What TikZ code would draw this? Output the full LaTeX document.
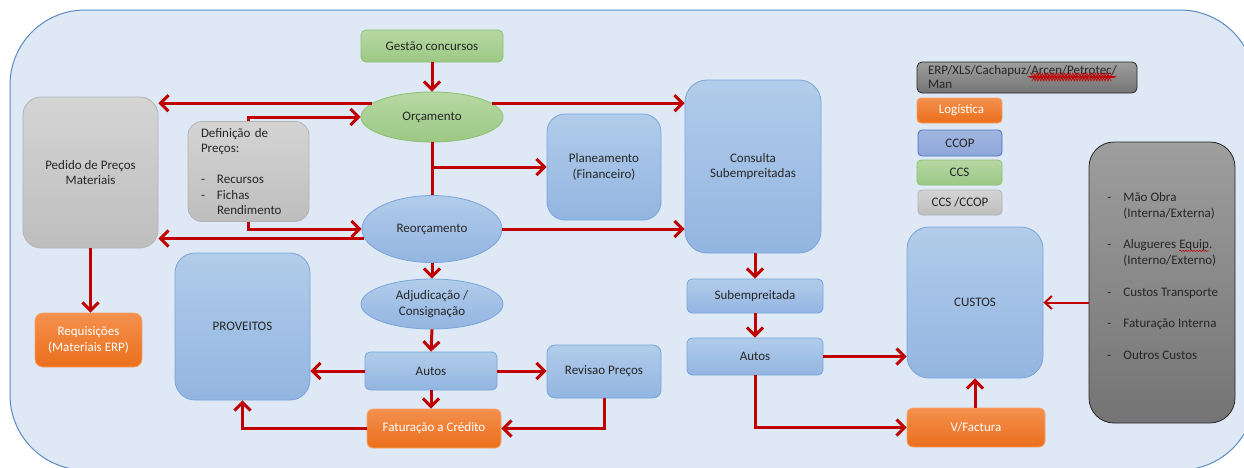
\documentclass[tikz,border=0pt]{standalone}
\usepackage{fontspec}
\setmainfont{Carlito}
\usetikzlibrary{arrows.meta,shapes.geometric,calc,decorations.pathmorphing}

\definecolor{txt}{HTML}{262626}
\definecolor{flowred}{HTML}{C00000}
\definecolor{bgfill}{HTML}{DEE9F5}
\definecolor{bgline}{HTML}{5A8AC6}
\definecolor{bluetop}{HTML}{B2CCEA}
\definecolor{bluebot}{HTML}{92B5E1}
\definecolor{blueline}{HTML}{79A5DA}
\definecolor{greentop}{HTML}{B7D8A4}
\definecolor{greenbot}{HTML}{9CC885}
\definecolor{greenline}{HTML}{8CC06E}
\definecolor{greytop}{HTML}{D4D4D4}
\definecolor{greybot}{HTML}{BEBEBE}
\definecolor{greyline}{HTML}{B3B3B3}
\definecolor{orangetop}{HTML}{F4904E}
\definecolor{orangebot}{HTML}{EA6F1C}
\definecolor{orangeline}{HTML}{F5A36B}
\definecolor{ccoptop}{HTML}{A3B5E0}
\definecolor{ccopbot}{HTML}{8FA6D9}
\definecolor{ccopline}{HTML}{4A72C2}
\definecolor{darktop}{HTML}{9E9E9E}
\definecolor{darkbot}{HTML}{747474}
\definecolor{darkline}{HTML}{262626}

% red spell-check squiggle under a word
\newcommand{\spellmark}[1]{\tikz[baseline=(spw.base), x=1pt, y=1pt]{%
  \node[inner sep=0pt, outer sep=0pt, minimum width=0pt, minimum height=0pt,
    text width=, align=none, rounded corners=0pt] (spw) {#1};
  \draw[flowred, line width=0.5pt, decorate,
    decoration={snake, amplitude=0.7pt, segment length=2.8pt}]
    ([yshift=-2pt]spw.base west) -- ([yshift=-2pt]spw.base east);}}
\newcommand{\dashitem}[1]{\makebox[16pt][l]{-}#1}
\newcommand{\dashcont}[1]{\hspace*{16pt}#1}

\tikzset{
  base/.style={font=\fontsize{13}{15.4}\selectfont, text=txt, inner sep=0pt,
    align=center, line width=0.8pt},
  bluebox/.style={base, rectangle, draw=blueline, top color=bluetop, bottom color=bluebot},
  blueoval/.style={base, ellipse, draw=blueline, top color=bluetop, bottom color=bluebot},
  greenbox/.style={base, rectangle, draw=greenline, top color=greentop, bottom color=greenbot},
  greenoval/.style={base, ellipse, draw=greenline, top color=greentop, bottom color=greenbot},
  greybox/.style={base, rectangle, draw=greyline, top color=greytop, bottom color=greybot},
  orangebox/.style={base, rectangle, draw=orangeline, top color=orangetop,
    bottom color=orangebot, text=white},
  ccopbox/.style={base, rectangle, draw=ccopline, top color=ccoptop, bottom color=ccopbot},
  darkbox/.style={base, rectangle, draw=darkline, top color=darktop, bottom color=darkbot},
  flow/.style={draw=flowred, line width=3pt,
    -{Straight Barb[length=8pt,width=16pt]}},
  thinflow/.style={draw=flowred, line width=2pt,
    -{Straight Barb[length=7pt,width=13pt]}},
  link/.style={draw=flowred, line width=3pt},
  panel/.style={fill=bgfill, draw=bgline, line width=1pt, rounded corners=75pt},
}

\begin{document}
\begin{tikzpicture}[x=1pt, y=-1pt]
  \useasboundingbox (0,0) rectangle (1244,467);

  % light blue rounded panel, running off the right and bottom edges
  \begin{scope}
    \clip (0,0) rectangle (1244,467);
    \draw[panel] (10,10) rectangle (1255,470);
  \end{scope}

  % main flow
  \node[greenbox, rounded corners=5pt, minimum width=142pt, minimum height=32pt]
    (gest) at (432,46) {Gestão concursos};
  \node[greenoval, minimum width=142pt, minimum height=50pt]
    (orc) at (432,117) {Orçamento};
  \node[greybox, rounded corners=18pt, minimum width=135pt, minimum height=151pt]
    (ped) at (90.5,172.5) {Pedido de Preços\\Materiais};
  \node[greybox, rounded corners=14pt, minimum width=121pt, minimum height=100pt,
    text width=95pt, align=left]
    (def) at (248.5,171.5) {Definição de\\Preços:\\[15.4pt]\dashitem{Recursos}\\\dashitem{Fichas}\\\dashcont{Rendimento}};
  \node[bluebox, rounded corners=18pt, minimum width=114pt, minimum height=106pt]
    (plan) at (604,167) {Planeamento\\(Financeiro)};
  \node[bluebox, rounded corners=22pt, minimum width=136pt, minimum height=173pt]
    (cons) at (753,166.5) {Consulta\\Subempreitadas};
  \node[blueoval, minimum width=140pt, minimum height=67pt]
    (reo) at (432,229) {Reorçamento};
  \node[bluebox, rounded corners=20pt, minimum width=135pt, minimum height=147pt]
    (prov) at (242.5,326.5) {PROVEITOS};
  \node[blueoval, minimum width=142pt, minimum height=50pt]
    (adj) at (432,304) {Adjudicação /\\Consignação};
  \node[bluebox, rounded corners=5pt, minimum width=132pt, minimum height=38pt]
    (autl) at (431,371) {Autos};
  \node[bluebox, rounded corners=8pt, minimum width=114pt, minimum height=53pt]
    (rev) at (604,371.5) {Revisao Preços};
  \node[orangebox, rounded corners=6pt, minimum width=134pt, minimum height=39pt]
    (fat) at (434,428.5) {Faturação a Crédito};
  \node[orangebox, rounded corners=8pt, minimum width=107pt, minimum height=54pt]
    (req) at (88.5,340) {Requisições\\(Materiais ERP)};
  \node[bluebox, rounded corners=5pt, minimum width=136pt, minimum height=34pt]
    (sub) at (755,296) {Subempreitada};
  \node[bluebox, rounded corners=5pt, minimum width=136pt, minimum height=37pt]
    (autr) at (755,356.5) {Autos};
  \node[bluebox, rounded corners=22pt, minimum width=136pt, minimum height=151pt]
    (cus) at (975,302.5) {CUSTOS};
  \node[orangebox, rounded corners=6pt, minimum width=138pt, minimum height=39pt]
    (vf) at (976,427.5) {V/Factura};

  % colour key
  \node[darkbox, rounded corners=5pt, minimum width=220pt, minimum height=31pt,
    text width=198pt, align=left, font=\fontsize{13}{14}\selectfont]
    (keyerp) at (1027,77.5) {ERP/XLS/Cachapuz/\spellmark{Arcen/Petrotec}/\\Man};
  \node[orangebox, rounded corners=4pt, minimum width=85pt, minimum height=25pt]
    (keylog) at (959.5,110.5) {\hspace*{4pt}Logística};
  \node[ccopbox, rounded corners=4pt, minimum width=84pt, minimum height=26pt]
    (keyccop) at (960,143) {CCOP};
  \node[greenbox, rounded corners=4pt, minimum width=85pt, minimum height=25pt]
    (keyccs) at (959.5,172.5) {CCS};
  \node[greybox, rounded corners=4pt, minimum width=84pt, minimum height=25pt]
    (keyboth) at (960,202.5) {CCS /CCOP};

  % cost sources
  \node[darkbox, rounded corners=25pt, minimum width=146pt, minimum height=281pt]
    (src) at (1162,282.5) {};
  \node[base, anchor=west, align=left, font=\fontsize{13}{15.8}\selectfont]
    (srclist) at (1107,276) {\dashitem{Mão Obra}\\\dashcont{(Interna/Externa)}\\[15.8pt]%
      \dashitem{Alugueres \spellmark{Equip}.}\\\dashcont{(Interno/Externo)}\\[15.8pt]%
      \dashitem{Custos Transporte}\\[15.8pt]%
      \dashitem{Faturação Interna}\\[15.8pt]%
      \dashitem{Outros Custos}};

  % connectors
  \draw[flow] (gest.south) -- (orc.north);
  \draw[flow] (orc.167) -- (orc.167 -| ped.east);
  \draw[flow] (def.north) |- (orc.west);
  \draw[flow] (orc.13) -- (orc.13 -| cons.west);
  \draw[link] (orc.south) -- (reo.north);
  \draw[flow] (orc.south |- plan.west) -- (plan.west);
  \draw[flow] (def.south) |- (reo.west);
  \draw[flow] (reo.188) -- (reo.188 -| ped.east);
  \draw[flow] (reo.east) -- (reo.east -| cons.west);
  \draw[flow] (ped.south) -- (ped.south |- req.north);
  \draw[flow] (reo.south) -- (adj.north);
  \draw[flow] (adj.south) -- (autl.north);
  \draw[flow] (autl.west) -- (autl.west -| prov.east);
  \draw[flow] (autl.east) -- (autl.east -| rev.west);
  \draw[flow] (autl.south) -- (autl.south |- fat.north);
  \draw[flow] (rev.south) |- (fat.east);
  \draw[flow] (fat.west) -| (prov.south);
  \draw[flow] (sub.north |- cons.south) -- (sub.north);
  \draw[flow] (sub.south) -- (autr.north);
  \draw[flow] (autr.east) -- (autr.east -| cus.west);
  \draw[flow] (autr.south) |- (vf.west);
  \draw[flow] (cus.south |- vf.north) -- (cus.south);
  \draw[thinflow] (src.west |- cus.east) -- (cus.east);
\end{tikzpicture}
\end{document}
